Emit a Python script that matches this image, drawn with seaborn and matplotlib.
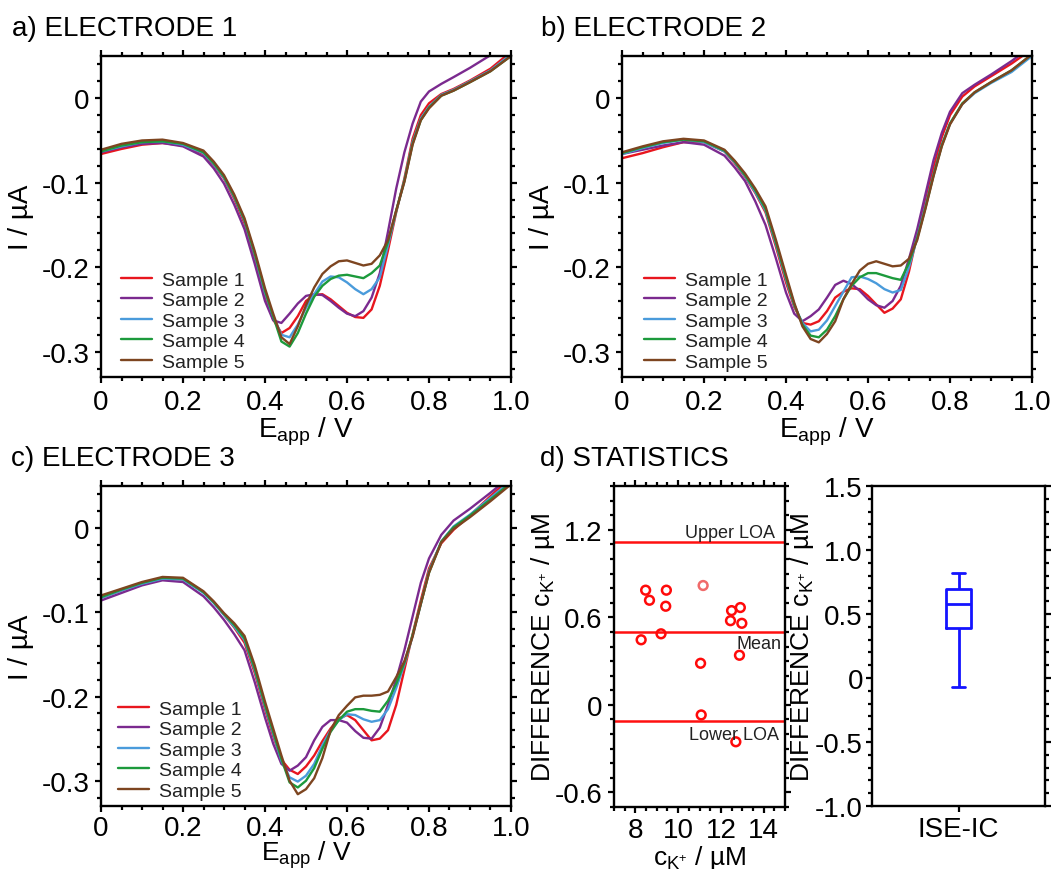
import numpy as np
import pandas as pd
import matplotlib
matplotlib.use("Agg")
import matplotlib.pyplot as plt
import seaborn as sns
from matplotlib.ticker import MultipleLocator, FuncFormatter

# ---------------- data ----------------
E_V = [0.00, 0.05, 0.10, 0.15, 0.20, 0.25, 0.275, 0.30, 0.325, 0.35, 0.375, 0.40,
       0.42, 0.44, 0.46, 0.48, 0.50, 0.52, 0.54, 0.56, 0.58, 0.60, 0.62, 0.64, 0.66,
       0.68, 0.70, 0.72, 0.74, 0.76, 0.78, 0.80, 0.83, 0.86, 0.90, 0.95, 1.00]
samples = ["Sample 1", "Sample 2", "Sample 3", "Sample 4", "Sample 5"]

# Electrode 1 (I / uA)
a_s1 = [-0.066, -0.060, -0.055, -0.053, -0.056, -0.066, -0.079, -0.095, -0.119, -0.148,
        -0.188, -0.233,
        -0.262, -0.278, -0.272, -0.258, -0.240, -0.233, -0.232, -0.238, -0.246, -0.254,
        -0.259, -0.260, -0.250, -0.222, -0.180, -0.135, -0.095, -0.048, -0.020, -0.006,
        0.005, 0.011, 0.021, 0.035, 0.055]
a_s2 = [-0.064, -0.058, -0.054, -0.053, -0.057, -0.069, -0.083, -0.101, -0.126, -0.155,
        -0.196, -0.240,
        -0.263, -0.266, -0.255, -0.243, -0.234, -0.232, -0.233, -0.240, -0.248, -0.255,
        -0.258, -0.252, -0.236, -0.207, -0.158, -0.107, -0.064, -0.030, -0.004, 0.008,
        0.017, 0.025, 0.036, 0.051, 0.068]
a_s3 = [-0.063, -0.057, -0.052, -0.051, -0.055, -0.065, -0.078, -0.094, -0.117, -0.145,
        -0.185, -0.230,
        -0.258, -0.280, -0.283, -0.268, -0.248, -0.232, -0.217, -0.211, -0.212, -0.218,
        -0.226, -0.232, -0.226, -0.212, -0.174, -0.134, -0.097, -0.052, -0.024, -0.010,
        0.004, 0.010, 0.020, 0.033, 0.052]
a_s4 = [-0.063, -0.056, -0.052, -0.051, -0.054, -0.064, -0.077, -0.093, -0.116, -0.144,
        -0.184, -0.228,
        -0.258, -0.288, -0.294, -0.278, -0.255, -0.235, -0.222, -0.214, -0.210, -0.209,
        -0.211, -0.213, -0.207, -0.198, -0.170, -0.133, -0.098, -0.054, -0.026, -0.011,
        0.003, 0.009, 0.019, 0.032, 0.050]
a_s5 = [-0.061, -0.054, -0.050, -0.049, -0.053, -0.062, -0.075, -0.091, -0.114, -0.142,
        -0.181, -0.225,
        -0.255, -0.283, -0.291, -0.270, -0.245, -0.224, -0.208, -0.199, -0.193, -0.192,
        -0.195, -0.198, -0.196, -0.186, -0.168, -0.133, -0.099, -0.055, -0.026, -0.012,
        0.003, 0.009, 0.019, 0.032, 0.050]

# Electrode 2
b_s1 = [-0.071, -0.065, -0.058, -0.052, -0.052, -0.063, -0.077, -0.093, -0.112, -0.135,
        -0.175, -0.218,
        -0.247, -0.266, -0.268, -0.264, -0.252, -0.236, -0.229, -0.225, -0.226, -0.234,
        -0.244, -0.254, -0.249, -0.238, -0.205, -0.162, -0.122, -0.082, -0.046, -0.020,
        0.002, 0.014, 0.026, 0.041, 0.058]
b_s2 = [-0.066, -0.061, -0.056, -0.052, -0.055, -0.068, -0.082, -0.098, -0.122, -0.150,
        -0.189, -0.230,
        -0.255, -0.264, -0.258, -0.250, -0.236, -0.221, -0.216, -0.220, -0.228, -0.238,
        -0.245, -0.248, -0.240, -0.222, -0.190, -0.155, -0.114, -0.073, -0.041, -0.016,
        0.006, 0.016, 0.028, 0.044, 0.062]
b_s3 = [-0.066, -0.059, -0.053, -0.049, -0.052, -0.063, -0.076, -0.092, -0.111, -0.133,
        -0.172, -0.214,
        -0.245, -0.266, -0.276, -0.274, -0.263, -0.246, -0.229, -0.212, -0.211, -0.214,
        -0.219, -0.226, -0.230, -0.227, -0.200, -0.165, -0.128, -0.090, -0.055, -0.030,
        -0.007, 0.006, 0.018, 0.031, 0.050]
b_s4 = [-0.065, -0.058, -0.052, -0.049, -0.051, -0.062, -0.075, -0.091, -0.109, -0.131,
        -0.170, -0.212,
        -0.244, -0.268, -0.281, -0.283, -0.274, -0.258, -0.238, -0.222, -0.212, -0.207,
        -0.207, -0.210, -0.213, -0.215, -0.195, -0.166, -0.130, -0.091, -0.056, -0.030,
        -0.006, 0.007, 0.019, 0.033, 0.052]
b_s5 = [-0.064, -0.057, -0.051, -0.048, -0.050, -0.061, -0.074, -0.089, -0.107, -0.128,
        -0.167, -0.209,
        -0.242, -0.270, -0.285, -0.289, -0.279, -0.264, -0.238, -0.220, -0.204, -0.196,
        -0.193, -0.196, -0.199, -0.198, -0.190, -0.168, -0.131, -0.092, -0.057, -0.031,
        -0.007, 0.007, 0.019, 0.033, 0.052]

# Electrode 3
c_s1 = [-0.083, -0.074, -0.066, -0.060, -0.061, -0.076, -0.088, -0.103, -0.118, -0.136,
        -0.172, -0.215,
        -0.247, -0.275, -0.287, -0.292, -0.283, -0.270, -0.253, -0.238, -0.226, -0.222,
        -0.228, -0.240, -0.252, -0.250, -0.240, -0.210, -0.168, -0.126, -0.086, -0.048,
        -0.018, -0.002, 0.015, 0.038, 0.060]
c_s2 = [-0.086, -0.077, -0.068, -0.062, -0.064, -0.081, -0.094, -0.109, -0.126, -0.145,
        -0.183, -0.225,
        -0.256, -0.280, -0.288, -0.282, -0.272, -0.252, -0.236, -0.228, -0.228, -0.231,
        -0.241, -0.249, -0.250, -0.237, -0.210, -0.180, -0.145, -0.105, -0.065, -0.036,
        -0.008, 0.009, 0.023, 0.042, 0.062]
c_s3 = [-0.083, -0.074, -0.066, -0.060, -0.061, -0.077, -0.089, -0.103, -0.117, -0.133,
        -0.169, -0.212,
        -0.244, -0.276, -0.296, -0.301, -0.294, -0.280, -0.258, -0.240, -0.228, -0.221,
        -0.222, -0.227, -0.230, -0.228, -0.215, -0.190, -0.162, -0.128, -0.090, -0.051,
        -0.016, 0.002, 0.016, 0.036, 0.056]
c_s4 = [-0.082, -0.073, -0.065, -0.059, -0.060, -0.076, -0.088, -0.102, -0.115, -0.131,
        -0.167, -0.210,
        -0.242, -0.274, -0.302, -0.308, -0.300, -0.285, -0.262, -0.242, -0.228, -0.218,
        -0.215, -0.215, -0.217, -0.218, -0.205, -0.185, -0.160, -0.127, -0.090, -0.053,
        -0.016, 0.001, 0.015, 0.034, 0.054]
c_s5 = [-0.080, -0.072, -0.064, -0.058, -0.059, -0.075, -0.087, -0.101, -0.113, -0.128,
        -0.163, -0.206,
        -0.238, -0.270, -0.300, -0.316, -0.310, -0.297, -0.273, -0.240, -0.222, -0.211,
        -0.201, -0.199, -0.199, -0.198, -0.194, -0.177, -0.158, -0.129, -0.090, -0.053,
        -0.017, -0.001, 0.013, 0.032, 0.052]

# Statistics (Bland-Altman)
conc_uM = [8.48, 9.45, 8.66, 9.42, 8.27, 9.20, 11.17, 11.05, 11.08, 12.50, 12.91,
           12.45, 12.98, 12.87, 12.70]
diff_uM = [0.786, 0.786, 0.717, 0.676, 0.446, 0.487, 0.818, 0.285, -0.069, 0.646,
           0.667, 0.577, 0.559, 0.340, -0.253]
point_shade = ["dark"] * 6 + ["light"] + ["dark"] * 8
loa_values = [1.113, 0.50, -0.113]
loa_labels = ["Upper LOA", "Mean", "Lower LOA"]
box_category = "ISE-IC"

# ---------------- style ----------------
sns.set_theme(style="ticks")
plt.rcParams.update({
    "axes.unicode_minus": False,
    "axes.linewidth": 1.7,
    "axes.edgecolor": "black",
    "axes.labelcolor": "black",
    "text.color": "black",
    "xtick.direction": "out",
    "ytick.direction": "out",
    "xtick.major.size": 4.5,
    "ytick.major.size": 4.5,
    "xtick.minor.size": 3,
    "ytick.minor.size": 3,
    "xtick.major.width": 1.6,
    "ytick.major.width": 1.6,
    "xtick.minor.width": 1.6,
    "ytick.minor.width": 1.6,
    "xtick.color": "black",
    "ytick.color": "black",
    "xtick.labelcolor": "black",
    "ytick.labelcolor": "black",
    "xtick.labelsize": 20,
    "ytick.labelsize": 20,
    "axes.labelsize": 20,
    "mathtext.fontset": "custom",
    "mathtext.rm": "Liberation Sans",
    "mathtext.it": "Liberation Sans:italic",
})
plt.rcParams["font.family"] = ["Liberation Sans", "DejaVu Sans"]

colors = ["#e8161e", "#7b2a8f", "#4a9bdb", "#1c9a3c", "#7d4520"]

W, H = 1062, 870
fig = plt.figure(figsize=(W / 100, H / 100), dpi=100)


def add_ax(l, r, t, b):
    return fig.add_axes([l / W, 1 - b / H, (r - l) / W, (b - t) / H])


def fmt(v, pos):
    if abs(v) < 1e-9:
        return "0"
    return f"{v:.1f}"


def style_ticks(ax, top=True, xpad=4):
    ax.tick_params(which="both", top=top, right=True, bottom=True, left=True,
                   pad=4)
    ax.tick_params(axis="x", pad=xpad)
    ax.xaxis.set_major_formatter(FuncFormatter(fmt))
    ax.yaxis.set_major_formatter(FuncFormatter(fmt))


def curve_panel(ax, series, legend_x, bottom_row=False):
    df = pd.DataFrame({
        "E": E_V * len(series),
        "I": [v for s in series for v in s],
        "Sample": [name for name in samples for _ in E_V],
    })
    sns.lineplot(data=df, x="E", y="I", hue="Sample", palette=colors,
                 linewidth=1.7, estimator=None, sort=False, ax=ax)
    ax.set_xlim(0, 1.0)
    ax.set_ylim(-0.33, 0.05)
    ax.xaxis.set_major_locator(MultipleLocator(0.2))
    ax.xaxis.set_minor_locator(MultipleLocator(0.05))
    ax.yaxis.set_major_locator(MultipleLocator(0.1))
    ax.yaxis.set_minor_locator(MultipleLocator(0.02))
    style_ticks(ax, xpad=2 if bottom_row else 4)
    ax.set_xlabel(r"E$_{\mathregular{app}}$ / V", labelpad=-2 if bottom_row else 0,
                  fontsize=19 if bottom_row else 20)
    ax.set_ylabel("I / µA", labelpad=5)
    h, l = ax.get_legend_handles_labels()
    ax.legend(h, l, loc="lower left", bbox_to_anchor=(legend_x, -0.005),
              frameon=False, fontsize=14, handlelength=1.6, handletextpad=0.5,
              labelspacing=0.15, borderaxespad=0.0, labelcolor="#222222")


ax_a = add_ax(101, 511, 57, 378)
curve_panel(ax_a, [a_s1, a_s2, a_s3, a_s4, a_s5], 0.03)
ax_b = add_ax(622, 1032, 57, 378)
curve_panel(ax_b, [b_s1, b_s2, b_s3, b_s4, b_s5], 0.035)
ax_c = add_ax(101, 511, 487, 807)
curve_panel(ax_c, [c_s1, c_s2, c_s3, c_s4, c_s5], 0.022, bottom_row=True)

# ---- d) Bland-Altman ----
ax_d = add_ax(614, 785, 487, 808)
for val in loa_values:
    ax_d.axhline(val, color="#ff1010", linewidth=1.8, zorder=2)
sdf = pd.DataFrame({"c": conc_uM, "d": diff_uM, "shade": point_shade})
sns.scatterplot(data=sdf, x="c", y="d", hue="shade",
                palette={"dark": "#ff0a0a", "light": "#f06a6a"},
                marker="o", s=40, linewidth=1.8, legend=False, ax=ax_d, zorder=3)
coll = ax_d.collections[-1]
ec = ["#ff0a0a" if s == "dark" else "#f06a6a" for s in point_shade]
coll.set_edgecolors(ec)
coll.set_facecolors("none")
ax_d.set_xlim(7, 15)
ax_d.set_ylim(-0.7, 1.5)
ax_d.xaxis.set_major_locator(MultipleLocator(2))
ax_d.xaxis.set_minor_locator(MultipleLocator(0.5))
ax_d.yaxis.set_major_locator(MultipleLocator(0.6))
ax_d.yaxis.set_minor_locator(MultipleLocator(0.1))
style_ticks(ax_d, xpad=2.5)
ax_d.xaxis.set_major_formatter(FuncFormatter(lambda v, p: f"{v:.0f}"))
ax_d.set_xlabel(r"c$_{\mathregular{K^{+}}}$ / µM", labelpad=0, fontsize=19)
ax_d.set_ylabel(r"DIFFERENCE c$_{\mathregular{K^{+}}}$ / µM", fontsize=19)
ax_d.yaxis.set_label_coords(-0.335, 0.5)
ax_d.text(14.55, loa_values[0] + 0.035, loa_labels[0], ha="right", va="baseline",
          fontsize=13, color="#222222")
ax_d.text(14.85, loa_values[1] - 0.11, loa_labels[1], ha="right", va="baseline",
          fontsize=13, color="#222222")
ax_d.text(14.7, loa_values[2] - 0.12, loa_labels[2], ha="right", va="baseline",
          fontsize=13, color="#222222")

# ---- box plot ----
ax_e = add_ax(872, 1045, 487, 807)
sns.boxplot(x=[box_category] * len(diff_uM), y=diff_uM, ax=ax_e, width=0.15,
            whis=(5, 100), showfliers=False, fill=False, color="#1414ff",
            linewidth=2.0, capwidths=0.07)
ax_e.set_xlim(-0.5, 0.5)
ax_e.set_ylim(-1.0, 1.5)
ax_e.yaxis.set_major_locator(MultipleLocator(0.5))
ax_e.yaxis.set_minor_locator(MultipleLocator(0.1))
ax_e.tick_params(which="both", top=False, right=True, left=True, bottom=True, pad=4)
ax_e.tick_params(axis="y", pad=2)
ax_e.tick_params(axis="x", which="minor", bottom=False)
ax_e.tick_params(axis="x", pad=2.5)
ax_e.yaxis.set_major_formatter(FuncFormatter(fmt))
ax_e.set_xlabel("")
ax_e.set_ylabel(r"DIFFERENCE c$_{\mathregular{K^{+}}}$ / µM", fontsize=19)
ax_e.yaxis.set_label_coords(-0.325, 0.5)
for sp in ax_e.spines.values():
    sp.set_visible(True)
    sp.set_linewidth(1.7)
    sp.set_color("black")

# ---- panel titles ----
fig.text(12 / W, 1 - 36 / H, "a) ELECTRODE 1", fontsize=20, va="baseline")
fig.text(541 / W, 1 - 36 / H, "b) ELECTRODE 2", fontsize=20, va="baseline")
fig.text(11 / W, 1 - 466 / H, "c) ELECTRODE 3", fontsize=20, va="baseline")
fig.text(540 / W, 1 - 466 / H, "d) STATISTICS", fontsize=20, va="baseline")

fig.savefig("out.png", dpi=100)
